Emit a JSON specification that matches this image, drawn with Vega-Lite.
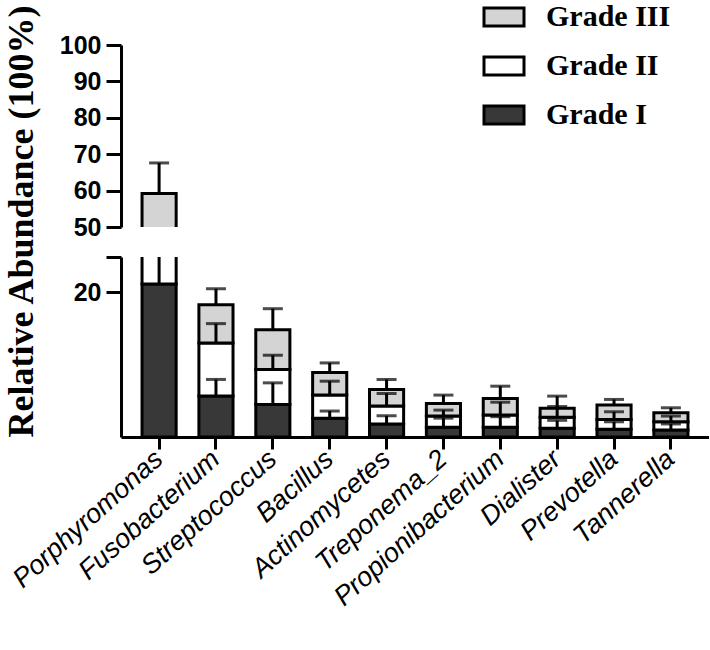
{
  "$schema": "https://vega.github.io/schema/vega-lite/v6.json",
  "padding": {"left": 2, "top": 2, "right": 0, "bottom": 0},
  "background": "white",
  "bounds": "flush",
  "config": {
    "view": {"stroke": null},
    "axis": {
      "domainColor": "black", "domainWidth": 3, "tickColor": "black", "tickWidth": 3,
      "labelColor": "black", "grid": false, "labelOverlap": false
    }
  },
  "data": {"values": [
    {"genus": "Porphyromonas", "grade": "Grade I", "value": 21.1, "errTop": 30},
    {"genus": "Porphyromonas", "grade": "Grade II", "value": 20.0, "errTop": 44},
    {"genus": "Porphyromonas", "grade": "Grade III", "value": 18.1, "errTop": 67.6},
    {"genus": "Fusobacterium", "grade": "Grade I", "value": 5.64, "errTop": 7.94},
    {"genus": "Fusobacterium", "grade": "Grade II", "value": 7.33, "errTop": 15.64},
    {"genus": "Fusobacterium", "grade": "Grade III", "value": 5.28, "errTop": 20.45},
    {"genus": "Streptococcus", "grade": "Grade I", "value": 4.49, "errTop": 7.47},
    {"genus": "Streptococcus", "grade": "Grade II", "value": 4.82, "errTop": 11.28},
    {"genus": "Streptococcus", "grade": "Grade III", "value": 5.5, "errTop": 17.7},
    {"genus": "Bacillus", "grade": "Grade I", "value": 2.57, "errTop": 3.58},
    {"genus": "Bacillus", "grade": "Grade II", "value": 3.21, "errTop": 7.7},
    {"genus": "Bacillus", "grade": "Grade III", "value": 3.11, "errTop": 10.22},
    {"genus": "Actinomycetes", "grade": "Grade I", "value": 1.79, "errTop": 2.93},
    {"genus": "Actinomycetes", "grade": "Grade II", "value": 2.47, "errTop": 6.01},
    {"genus": "Actinomycetes", "grade": "Grade III", "value": 2.3, "errTop": 7.94},
    {"genus": "Treponema_2", "grade": "Grade I", "value": 1.33, "errTop": 2.6},
    {"genus": "Treponema_2", "grade": "Grade II", "value": 1.56, "errTop": 3.71},
    {"genus": "Treponema_2", "grade": "Grade III", "value": 1.74, "errTop": 5.78},
    {"genus": "Propionibacterium", "grade": "Grade I", "value": 1.33, "errTop": 2.8},
    {"genus": "Propionibacterium", "grade": "Grade II", "value": 1.7, "errTop": 4.8},
    {"genus": "Propionibacterium", "grade": "Grade III", "value": 2.29, "errTop": 7.01},
    {"genus": "Dialister", "grade": "Grade I", "value": 1.19, "errTop": 2.3},
    {"genus": "Dialister", "grade": "Grade II", "value": 1.52, "errTop": 4.2},
    {"genus": "Dialister", "grade": "Grade III", "value": 1.24, "errTop": 5.64},
    {"genus": "Prevotella", "grade": "Grade I", "value": 1.06, "errTop": 2.1},
    {"genus": "Prevotella", "grade": "Grade II", "value": 1.37, "errTop": 3.48},
    {"genus": "Prevotella", "grade": "Grade III", "value": 1.97, "errTop": 5.18},
    {"genus": "Tannerella", "grade": "Grade I", "value": 0.96, "errTop": 1.8},
    {"genus": "Tannerella", "grade": "Grade II", "value": 1.15, "errTop": 2.89},
    {"genus": "Tannerella", "grade": "Grade III", "value": 1.24, "errTop": 4.03}
  ]},
  "transform": [
    {"stack": "value", "groupby": ["genus"], "sort": [{"field": "grade", "order": "ascending"}], "as": ["y0", "y1"]}
  ],
  "resolve": {"legend": {"fill": "independent"}, "scale": {"y": "independent"}},
  "spacing": 30,
  "vconcat": [
    {
      "width": 588,
      "height": 182,
      "encoding": {
        "x": {"field": "genus", "type": "nominal", "axis": null,
          "sort": ["Porphyromonas", "Fusobacterium", "Streptococcus", "Bacillus", "Actinomycetes", "Treponema_2", "Propionibacterium", "Dialister", "Prevotella", "Tannerella"],
          "scale": {"paddingInner": 0.4, "paddingOuter": 0.37}}
      },
      "layer": [
        {
          "mark": {"type": "bar", "stroke": "black", "strokeWidth": 3, "clip": true},
          "encoding": {
            "y": {"field": "y0", "type": "quantitative", "scale": {"domain": [50, 100], "nice": false, "zero": false},
              "axis": {"values": [50, 60, 70, 80, 90, 100], "title": null, "tickSize": 15, "labelPadding": 5, "labelOverlap": false,
                "labelFont": "Liberation Sans", "labelFontWeight": "bold", "labelFontSize": 25}},
            "y2": {"field": "y1"},
            "fill": {"field": "grade", "type": "nominal",
              "scale": {"domain": ["Grade III", "Grade II", "Grade I"], "range": ["#d4d4d4", "#ffffff", "#383838"]},
              "legend": {"orient": "none", "legendX": 368, "legendY": -43, "title": null, "padding": 0,
                "symbolType": "M-2,-0.9H2V0.9H-2Z", "symbolSize": 400, "symbolStrokeColor": "black", "symbolStrokeWidth": 3,
                "labelFont": "Liberation Serif", "labelFontWeight": "bold", "labelFontSize": 30, "labelColor": "black",
                "labelOffset": 27, "rowPadding": 19, "labelLimit": 300}}
          }
        },
        {
          "mark": {"type": "rule", "color": "black", "strokeWidth": 3, "clip": true},
          "encoding": {"y": {"field": "y1", "type": "quantitative",
              "axis": {"values": [50, 60, 70, 80, 90, 100], "title": null, "tickSize": 15, "labelPadding": 5, "labelOverlap": false,
                "labelFont": "Liberation Sans", "labelFontWeight": "bold", "labelFontSize": 25}}, "y2": {"field": "errTop"}}
        },
        {
          "mark": {"type": "tick", "color": "black", "thickness": 3, "size": 20, "clip": true},
          "encoding": {"y": {"field": "errTop", "type": "quantitative",
              "axis": {"values": [50, 60, 70, 80, 90, 100], "title": null, "tickSize": 15, "labelPadding": 5, "labelOverlap": false,
                "labelFont": "Liberation Sans", "labelFontWeight": "bold", "labelFontSize": 25}}}
        }
      ]
    },
    {
      "width": 588,
      "height": 180,
      "encoding": {
        "x": {"field": "genus", "type": "nominal",
          "sort": ["Porphyromonas", "Fusobacterium", "Streptococcus", "Bacillus", "Actinomycetes", "Treponema_2", "Propionibacterium", "Dialister", "Prevotella", "Tannerella"],
          "scale": {"paddingInner": 0.4, "paddingOuter": 0.37},
          "axis": {"title": null, "labelAngle": -42, "labelAlign": "right", "labelBaseline": "middle", "tickSize": 12, "labelLimit": 400,
            "labelPadding": 6, "labelFont": "Liberation Sans", "labelFontStyle": "italic", "labelFontSize": 27, "labelOverlap": false}}
      },
      "layer": [
        {
          "mark": {"type": "bar", "stroke": "black", "strokeWidth": 3, "clip": true},
          "encoding": {
            "y": {"field": "y0", "type": "quantitative", "scale": {"domain": [0, 24.83], "nice": false},
              "axis": {"values": [20, 24.8], "labelExpr": "datum.value == 20 ? '20' : ''", "tickSize": 15, "labelPadding": 5, "labelOverlap": false,
                "labelFont": "Liberation Sans", "labelFontWeight": "bold", "labelFontSize": 25,
                "title": "Relative Abundance (100%)", "titleFont": "Liberation Serif", "titleFontSize": 36, "titleFontWeight": "bold",
                "titleColor": "black", "titleAngle": 270, "titleX": -100, "titleY": -36, "titleAlign": "center", "titleBaseline": "middle"}},
            "y2": {"field": "y1"},
            "fill": {"field": "grade", "type": "nominal",
              "scale": {"domain": ["Grade III", "Grade II", "Grade I"], "range": ["#d4d4d4", "#ffffff", "#383838"]},
              "legend": null}
          }
        },
        {
          "mark": {"type": "rule", "color": "black", "strokeWidth": 3, "clip": true},
          "encoding": {"y": {"field": "y1", "type": "quantitative", "axis": {"values": [20, 24.8], "labelExpr": "datum.value == 20 ? '20' : ''", "labelOverlap": false}}, "y2": {"field": "errTop"}}
        },
        {
          "mark": {"type": "tick", "color": "black", "thickness": 3, "size": 20, "clip": true},
          "encoding": {"y": {"field": "errTop", "type": "quantitative", "axis": {"values": [20, 24.8], "labelExpr": "datum.value == 20 ? '20' : ''", "labelOverlap": false}}}
        }
      ]
    }
  ]
}
